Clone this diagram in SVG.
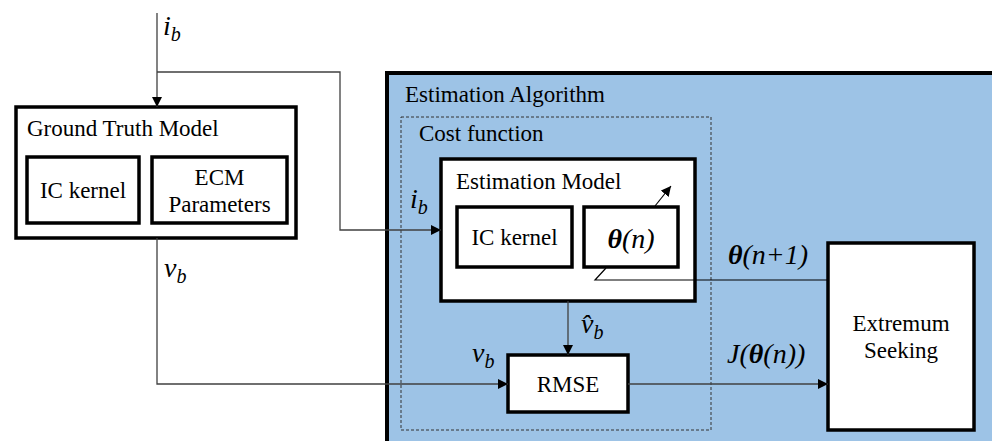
<svg xmlns="http://www.w3.org/2000/svg" width="992" height="441" viewBox="0 0 992 441">
<defs>
<marker id="ah" viewBox="0 0 10 10" refX="10" refY="5" markerWidth="10" markerHeight="10" markerUnits="userSpaceOnUse" orient="auto">
<path d="M0,0 L10,5 L0,10 z" fill="#000"/>
</marker>
</defs>
<rect width="992" height="441" fill="#fff"/>
<g id="estimation-algorithm">
<rect x="387" y="73" width="620" height="380" fill="#9DC3E6" stroke="#000" stroke-width="4"/>
<text x="405" y="102" font-family="Liberation Serif" font-size="23">Estimation Algorithm</text>
</g>
<g id="cost-function">
<rect x="401" y="117" width="310" height="313" fill="none" stroke="#333" stroke-width="1" stroke-dasharray="3,2"/>
<text x="419" y="141" font-family="Liberation Serif" font-size="23">Cost function</text>
</g>
<g id="ground-truth-model">
<g fill="#fff" stroke="#000" stroke-width="3.5">
<rect x="16" y="107" width="280" height="131"/>
<rect x="27" y="157" width="112" height="66"/>
<rect x="152" y="157" width="135" height="66"/>
</g>
<g font-family="Liberation Serif" font-size="23">
<text x="27" y="136">Ground Truth Model</text>
<text x="83" y="198" text-anchor="middle">IC kernel</text>
<text x="219.5" y="185" text-anchor="middle">ECM</text>
<text x="219.5" y="212" text-anchor="middle">Parameters</text>
</g>
</g>
<g id="estimation-model">
<g fill="#fff" stroke="#000" stroke-width="3.5">
<rect x="441" y="159" width="254" height="142"/>
<rect x="457" y="207" width="115" height="60"/>
<rect x="584" y="207" width="94" height="60"/>
</g>
<g font-family="Liberation Serif" font-size="23">
<text x="456" y="189">Estimation Model</text>
<text x="514.5" y="245" text-anchor="middle">IC kernel</text>
</g>
<text x="631" y="248" text-anchor="middle" font-family="Liberation Serif" font-size="28" font-style="italic"><tspan font-weight="bold">θ</tspan>(n)</text>
</g>
<g id="rmse">
<rect x="508" y="355" width="120" height="57" fill="#fff" stroke="#000" stroke-width="3.5"/>
<text x="568" y="392" text-anchor="middle" font-family="Liberation Serif" font-size="23">RMSE</text>
</g>
<g id="extremum-seeking">
<rect x="828" y="243" width="146" height="187" fill="#fff" stroke="#000" stroke-width="3.5"/>
<text x="901" y="331" text-anchor="middle" font-family="Liberation Serif" font-size="23">Extremum</text>
<text x="901" y="358" text-anchor="middle" font-family="Liberation Serif" font-size="23">Seeking</text>
</g>
<g id="connectors">
<g fill="none" stroke="#404040" stroke-width="1.3" marker-end="url(#ah)">
<path d="M157,13 V107"/>
<path d="M157,72 H340 V230 H441"/>
<path d="M157,238 V384 H508"/>
<path d="M568,301 V355"/>
<path d="M628,384 H828"/>
</g>
<path d="M828,280 H595 L606,268" fill="none" stroke="#000" stroke-width="1.2"/>
<path d="M655,206 L671,186" fill="none" stroke="#000" stroke-width="1.2" marker-end="url(#ah)"/>
</g>
<g id="labels" font-family="Liberation Serif" font-size="28" font-style="italic">
<text x="163" y="35" font-family="Liberation Serif">i<tspan font-size="20" dy="6">b</tspan></text>
<text x="164" y="277" font-family="Liberation Serif">v<tspan font-size="20" dy="6">b</tspan></text>
<text x="410" y="208" font-family="Liberation Serif">i<tspan font-size="20" dy="6">b</tspan></text>
<text x="472" y="362" font-family="Liberation Serif">v<tspan font-size="20" dy="6">b</tspan></text>
<text x="581" y="333" font-family="Liberation Serif">v&#x302;<tspan font-size="20" dy="6">b</tspan></text>
<text x="728" y="264" font-family="Liberation Serif"><tspan font-weight="bold">θ</tspan>(n+1)</text>
<text x="727" y="363" font-family="Liberation Serif">J(<tspan font-weight="bold">θ</tspan>(n))</text>
</g>
</svg>
